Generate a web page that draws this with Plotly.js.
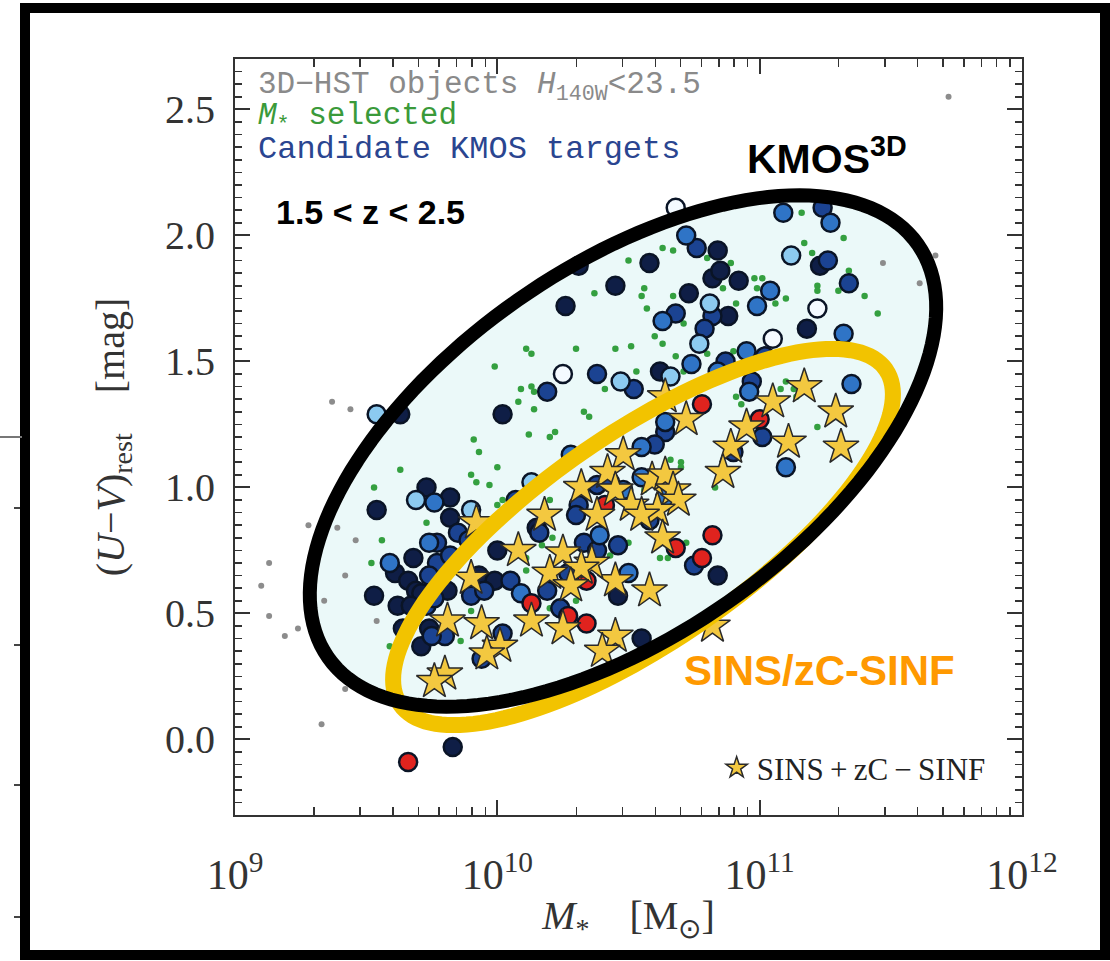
<!DOCTYPE html>
<html><head><meta charset="utf-8">
<script src="https://cdn.plot.ly/plotly-3.0.1.min.js"></script>
<style>html,body{margin:0;padding:0;background:#fff}</style>
</head><body><div id="chart" style="width:1110px;height:961px"></div>
<script>
// ---- data: log10(M*/Msun) and (U-V)rest ----
const grayLogM = [9.37,9.44,9.28,9.39,9.46,9.13,9.42,9.10,9.34,9.13,9.24,9.19,9.54,9.42,9.33,11.47,11.67,11.61,11.72];
const grayUV   = [1.34,1.31,0.85,0.84,0.79,0.70,0.65,0.61,0.55,0.49,0.44,0.41,0.47,0.20,0.06,1.89,1.92,1.81,2.55];

const greenLogM = [10.37,10.11,10.13,10.30,10.45,9.99,10.09,10.13,10.14,10.08,10.14,10.33,10.35,10.41,10.50,11.16,11.17,11.32,10.63,10.67,10.80,10.89,11.20,11.34,10.56,10.55,10.67,10.86,10.98,11.01,10.99,11.22,11.22,11.30,11.40,11.45,10.57,10.71,10.91,11.06,11.10,10.60,10.63,10.51,10.68,10.80,10.90,10.53,10.71,11.08,11.10,10.91,10.93,11.14,11.13,10.12,10.22,10.20,9.91,9.93,10.35,9.63,9.90,9.92,10.00,9.97,9.53,10.00,10.02,10.20,9.73,9.56,10.21,10.17,9.52,10.11,10.11,10.30,9.90,10.20,11.22,10.66,10.70,10.70,10.83,10.56,10.72,10.62,10.65,10.50,10.43,9.59,9.86];
const greenUV   = [1.77,1.55,1.53,1.55,1.55,1.48,1.39,1.40,1.38,1.34,1.31,1.30,1.28,1.39,1.90,2.09,1.97,1.99,1.95,1.94,1.91,1.89,1.93,1.86,1.79,1.76,1.76,1.79,1.83,1.83,1.79,1.80,1.78,1.78,1.76,1.69,1.71,1.65,1.73,1.73,1.75,1.60,1.57,1.56,1.52,1.53,1.54,1.46,1.46,1.39,1.42,1.36,1.33,1.36,1.39,1.21,1.22,1.20,1.19,1.14,1.17,1.07,1.05,1.02,1.08,1.01,1.00,0.93,0.95,0.95,0.86,0.79,0.80,0.77,0.70,0.67,0.72,0.55,0.51,0.52,1.24,1.11,1.10,1.08,1.00,0.99,0.78,0.72,0.72,0.78,0.73,0.37,0.39];

const navyLogM = [9.63,10.02,10.26,10.45,10.31,10.84,10.58,10.82,10.85,10.92,11.23,10.73,10.88,11.18,10.62,9.73,9.82,9.54,9.82,10.15,10.00,9.68,9.61,9.66,9.93,9.99,9.69,9.71,9.81,9.53,9.62,9.67,10.46,9.74,10.84,10.55,9.64,9.71,9.83];
const navyUV   = [1.29,1.29,1.72,1.80,1.88,1.94,1.89,1.83,1.86,1.82,1.88,1.77,1.68,1.63,1.46,1.00,0.96,0.91,0.88,0.84,0.75,0.72,0.66,0.63,0.65,0.63,0.59,0.58,0.59,0.57,0.53,0.53,0.57,0.44,0.65,0.40,0.44,0.37,-0.03];

const darkLogM = [10.38,10.19,10.52,11.24,10.76,11.26,11.34,10.82,10.68,10.79,11.02,10.87,10.97,10.07,10.38,10.31,10.30,10.43,10.16,9.85,9.89,9.77,10.33,10.38,9.77,9.82,9.74,10.05,10.27,9.90,9.95,9.73,9.76,10.19,10.24,10.02,9.80,10.64,11.01,10.60,10.90,10.58,10.46,10.75,9.75,9.94];
const darkUV   = [1.45,1.38,1.39,2.11,1.95,1.90,1.81,1.68,1.69,1.63,1.52,1.50,1.42,0.95,1.01,0.93,0.89,1.02,0.82,0.82,0.79,0.78,0.78,0.75,0.70,0.73,0.65,0.63,0.66,0.57,0.59,0.53,0.56,0.59,0.52,0.42,0.41,1.22,1.20,1.17,1.14,0.87,0.77,0.69,0.41,0.32];

const midLogM = [11.09,11.27,10.72,11.04,10.99,10.63,11.32,10.95,10.74,10.84,11.35,10.96,10.28,9.76,9.74,10.39,9.59,10.09,10.64,10.55,11.10,10.55,10.48,10.64,10.50];
const midUV   = [2.09,2.05,2.00,1.78,1.72,1.66,1.61,1.54,1.49,1.46,1.41,1.38,1.13,0.94,0.78,0.81,0.70,0.58,1.26,1.16,1.08,1.04,0.99,0.96,0.66];

const lightLogM = [9.54,10.47,11.12,10.81,10.77,10.66,10.13,9.69,9.90];
const lightUV   = [1.29,1.42,1.92,1.73,1.57,1.44,1.02,0.95,0.91];

const whiteLogM = [10.25,10.68,11.22,11.05];
const whiteUV   = [1.45,2.11,1.71,1.59];

const redLogM = [10.78,11.00,10.41,10.34,10.13,10.27,10.34,10.82,10.68,10.78,9.66];
const redUV   = [1.33,1.27,0.93,0.63,0.54,0.49,0.46,0.81,0.76,0.72,-0.09];

const starLogM = [10.64,11.05,11.17,11.29,10.72,10.95,10.89,11.11,11.31,10.48,10.42,10.59,10.64,10.86,10.45,10.67,10.69,10.51,10.61,10.55,10.63,10.45,10.58,10.45,10.82,9.92,10.18,10.32,10.38,10.08,10.25,10.36,10.32,10.20,10.28,9.90,9.81,9.94,10.13,10.25,10.01,10.40,9.96,9.80,9.76];
const starUV   = [1.36,1.34,1.40,1.30,1.27,1.24,1.16,1.18,1.16,1.13,1.06,1.03,1.05,1.06,0.99,0.99,0.95,0.93,0.91,0.89,0.80,0.63,0.59,0.41,0.45,0.86,0.89,1.00,0.89,0.75,0.74,0.70,0.68,0.66,0.61,0.64,0.47,0.46,0.47,0.44,0.37,0.35,0.34,0.26,0.23];

const xTickVals = [1e9, 1e10, 1e11, 1e12];
const xTickText = ['10<sup>9</sup>', '10<sup>10</sup>', '10<sup>11</sup>', '10<sup>12</sup>'];

// ---- layout geometry ----
const W = 1110, H = 961, ML = 235, MR = 88, MT = 59, MB = 146;
const PW = W - ML - MR, PH = H - MT - MB;
function toPaper(px, py) { return [(px - ML) / PW, (H - MB - py) / PH]; }
function ellipsePath(cx, cy, a, b, deg) {
  const th = deg * Math.PI / 180; let s = '';
  for (let i = 0; i <= 160; i++) {
    const t = 2 * Math.PI * i / 160;
    const dx = a * Math.cos(th) * Math.cos(t) - b * Math.sin(th) * Math.sin(t);
    const dy = a * Math.sin(th) * Math.cos(t) + b * Math.cos(th) * Math.sin(t);
    const p = toPaper(cx + dx, cy - dy);
    s += (i ? 'L' : 'M') + p[0].toFixed(5) + ',' + p[1].toFixed(5);
  }
  return s + 'Z';
}
const P = v => Math.pow(10, v);
const minorX = [];
for (let e = 9; e < 12; e++) for (let k = 2; k <= 9; k++) minorX.push(k * Math.pow(10, e));

function circ(name, lm, uv, fill) {
  return {type: 'scatter', mode: 'markers', name: name, x: lm.map(P), y: uv, showlegend: false, hoverinfo: 'skip',
    marker: {symbol: 'circle', size: 18, color: fill, line: {color: '#0a1426', width: 2.5}}};
}

const traces = [
  {type: 'scatter', mode: 'markers', name: '3D-HST', x: grayLogM.map(P), y: grayUV, showlegend: false, hoverinfo: 'skip',
   marker: {size: 6, color: '#8c8c8c'}},
  {type: 'scatter', mode: 'markers', name: 'Mstar selected', x: greenLogM.map(P), y: greenUV, showlegend: false, hoverinfo: 'skip',
   marker: {size: 6.5, color: '#34a040'}},
  circ('navy', navyLogM, navyUV, '#0f1e46'),
  circ('dark', darkLogM, darkUV, '#1b4392'),
  circ('mid', midLogM, midUV, '#2f74c6'),
  circ('light', lightLogM, lightUV, '#8ccaf0'),
  circ('white', whiteLogM, whiteUV, '#f4faff'),
  circ('red', redLogM, redUV, '#e0231e'),
  {type: 'scatter', mode: 'markers', name: 'SINS\u2009+\u2009zC\u2009\u2212\u2009SINF', x: starLogM.map(P), y: starUV, showlegend: true, hoverinfo: 'skip',
   marker: {symbol: 'star', size: 27, color: '#f3c840', line: {color: '#2a2a2a', width: 1.5}}},
  // empty trace that carries the mirrored top / right tick axes
  {type: 'scatter', mode: 'markers', x: [], y: [], xaxis: 'x2', yaxis: 'y2', showlegend: false, hoverinfo: 'skip'}
];

const ax = {color: '#333', showgrid: false, zeroline: false, showline: true, linecolor: '#333', linewidth: 2,
  mirror: true, ticks: 'inside', ticklen: 15, tickwidth: 2, tickcolor: '#333'};

const serif = 'Liberation Serif, Times New Roman, serif';
const mono = 'Liberation Mono, Courier New, monospace';
const bold = 'Liberation Sans, Arial, sans-serif';

const layout = {
  width: W, height: H, margin: {l: ML, r: MR, t: MT, b: MB}, autosize: false,
  paper_bgcolor: '#fff', plot_bgcolor: '#fff',
  xaxis: Object.assign({}, ax, {type: 'log', range: [9, 12], tickvals: xTickVals, ticktext: xTickText,
    ticklabelstandoff: 22, tickfont: {family: serif, size: 42, color: '#333'},
    minor: {tickvals: minorX, ticks: 'inside', ticklen: 8, tickwidth: 1.5, tickcolor: '#333'},
    title: {text: '<i>M</i><sub>*</sub>    [M<sub>\u2299</sub>]', font: {family: serif, size: 40, color: '#333'}, standoff: 4}}),
  yaxis: Object.assign({}, ax, {range: [-0.3, 2.7], tick0: 0, dtick: 0.5, tickformat: '.1f',
    ticklabelstandoff: 10, tickfont: {family: serif, size: 40, color: '#333'},
    minor: {dtick: 0.05, ticks: 'inside', ticklen: 7, tickwidth: 1.5, tickcolor: '#333'},
    title: {text: '(<i>U</i>\u2212<i>V</i>)<sub>rest</sub>    [mag]', font: {family: serif, size: 40, color: '#333'}, standoff: 28}}),
  xaxis2: {type: 'log', range: [9, 12], overlaying: 'x', side: 'top', anchor: 'y2', tickvals: xTickVals, showticklabels: false,
    ticks: 'inside', ticklen: 15, tickwidth: 2, tickcolor: '#333', showgrid: false, zeroline: false, showline: false,
    minor: {tickvals: minorX, ticks: 'inside', ticklen: 8, tickwidth: 1.5, tickcolor: '#333'}},
  yaxis2: {range: [-0.3, 2.7], overlaying: 'y', side: 'right', anchor: 'x2', tick0: 0, dtick: 0.5, showticklabels: false,
    ticks: 'inside', ticklen: 15, tickwidth: 2, tickcolor: '#333', showgrid: false, zeroline: false, showline: false,
    minor: {dtick: 0.05, ticks: 'inside', ticklen: 7, tickwidth: 1.5, tickcolor: '#333'}},
  showlegend: true,
  legend: {x: 0.612, y: 0.062, xanchor: 'left', yanchor: 'middle', bgcolor: 'rgba(0,0,0,0)', borderwidth: 0,
    font: {family: serif, size: 31, color: '#222'}, itemsizing: 'trace'},
  shapes: [
    {type: 'path', xref: 'paper', yref: 'paper', layer: 'below', path: ellipsePath(623, 451, 360, 184, 35),
     fillcolor: '#ebf9f9', line: {width: 0}},
    {type: 'path', xref: 'paper', yref: 'paper', layer: 'above', path: ellipsePath(643, 537, 295, 104, 34.6),
     fillcolor: 'rgba(0,0,0,0)', line: {color: '#f2c300', width: 16}},
    {type: 'path', xref: 'paper', yref: 'paper', layer: 'above', path: ellipsePath(623, 451, 360, 184, 35),
     fillcolor: 'rgba(0,0,0,0)', line: {color: '#000', width: 14}},
    // outer frame of the figure
    {type: 'rect', xref: 'paper', yref: 'paper', layer: 'above',
     x0: toPaper(25, 0)[0], x1: toPaper(1105, 0)[0], y0: toPaper(0, 955)[1], y1: toPaper(0, 8)[1],
     line: {color: '#000', width: 10}, fillcolor: 'rgba(0,0,0,0)'},
    // remnants of a neighbouring panel at the far left
    {type: 'line', xref: 'paper', yref: 'paper', x0: toPaper(0, 0)[0], x1: toPaper(22, 0)[0], y0: toPaper(0, 437)[1], y1: toPaper(0, 437)[1],
     line: {color: '#777', width: 2}},
    ...[508, 645, 785, 917].map(py => ({type: 'line', xref: 'paper', yref: 'paper', x0: toPaper(14, 0)[0], x1: toPaper(20, 0)[0],
     y0: toPaper(0, py)[1], y1: toPaper(0, py)[1], line: {color: '#444', width: 2}}))
  ],
  annotations: [
    {xref: 'paper', yref: 'paper', x: toPaper(256, 0)[0], y: toPaper(0, 87)[1], xanchor: 'left', yanchor: 'middle', showarrow: false,
     text: '3D\u2212HST objects <i>H</i><sub>140W</sub><23.5', font: {family: mono, size: 31, color: '#8a8a8a'}},
    {xref: 'paper', yref: 'paper', x: toPaper(256, 0)[0], y: toPaper(0, 118)[1], xanchor: 'left', yanchor: 'middle', showarrow: false,
     text: '<i>M</i><sub>*</sub> selected', font: {family: mono, size: 31, color: '#3a9a3a'}},
    {xref: 'paper', yref: 'paper', x: toPaper(256, 0)[0], y: toPaper(0, 149)[1], xanchor: 'left', yanchor: 'middle', showarrow: false,
     text: 'Candidate KMOS targets', font: {family: mono, size: 32, color: '#2a4590'}},
    {xref: 'paper', yref: 'paper', x: toPaper(370, 0)[0], y: toPaper(0, 212)[1], xanchor: 'center', yanchor: 'middle', showarrow: false,
     text: '<b>1.5 < z < 2.5</b>', font: {family: bold, size: 34, color: '#000'}},
    {xref: 'paper', yref: 'paper', x: toPaper(745, 0)[0], y: toPaper(0, 156)[1], xanchor: 'left', yanchor: 'middle', showarrow: false,
     text: '<b>KMOS<sup>3D</sup></b>', font: {family: bold, size: 41, color: '#000'}},
    {xref: 'paper', yref: 'paper', x: toPaper(819, 0)[0], y: toPaper(0, 670)[1], xanchor: 'center', yanchor: 'middle', showarrow: false,
     text: '<b>SINS/zC-SINF</b>', font: {family: bold, size: 42, color: '#ff9900'}}
  ]
};

Plotly.newPlot('chart', traces, layout, {displayModeBar: false, staticPlot: true});
</script>
</body></html>
